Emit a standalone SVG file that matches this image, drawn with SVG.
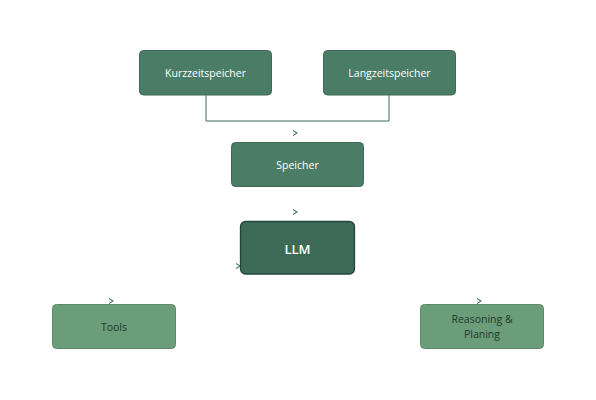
<svg xmlns="http://www.w3.org/2000/svg" width="596" height="400" viewBox="0 0 596 400">
<style>
.box{fill:#4b7c66;stroke:#3c6a56;stroke-width:1}
.llm{fill:#3d6a57;stroke:#25453a;stroke-width:1.3}
.low{fill:#6b9d7a;stroke:#5a8a69;stroke-width:1}
.t{font-family:"Open Sans","Noto Sans",sans-serif;font-size:10.5px;fill:#ffffff;text-anchor:middle}
.td{font-family:"Open Sans","Noto Sans",sans-serif;font-size:10.5px;fill:#1e3a2c;text-anchor:middle}
.tl{font-family:"Open Sans","Noto Sans",sans-serif;font-size:13px;font-weight:600;fill:#ffffff;text-anchor:middle}
.c{fill:none;stroke:#3c6a56;stroke-width:1}
.ch{fill:none;stroke:#4b7c66;stroke-width:1.1}
</style>
<rect width="596" height="400" fill="#ffffff"/>
<g id="connectors">
<polyline class="c" points="206,95.5 206,121 389,121 389,95.5"/>
<polyline class="ch" points="293,130.5 297,133 293,135.5"/>
<polyline class="ch" points="293,209.5 297,212 293,214.5"/>
<polyline class="ch" points="236,263.5 240,266 236,268.5"/>
<polyline class="ch" points="350,260.5 354,263 350,265.5" opacity="0.5"/>
<polyline class="ch" points="109,298.5 113,301 109,303.5"/>
<polyline class="ch" points="477,298.5 481,301 477,303.5"/>
</g>
<g id="kurzzeitspeicher">
<rect class="box" x="139.5" y="50.5" width="132" height="44.5" rx="4"/>
<text class="t" x="205.5" y="76.5">Kurzzeitspeicher</text>
</g>
<g id="langzeitspeicher">
<rect class="box" x="323.5" y="50.5" width="132" height="44.5" rx="4"/>
<text class="t" x="389.5" y="76.5">Langzeitspeicher</text>
</g>
<g id="speicher">
<rect class="box" x="231.5" y="142.5" width="132" height="44" rx="4"/>
<text class="t" x="297.5" y="168.5">Speicher</text>
</g>
<g id="llm">
<rect class="llm" x="240.5" y="221.5" width="114" height="52.5" rx="5"/>
<text class="tl" x="297.5" y="254">LLM</text>
</g>
<g id="tools">
<rect class="low" x="52.5" y="304.5" width="123" height="44" rx="4"/>
<text class="td" x="114" y="330.5">Tools</text>
</g>
<g id="reasoning">
<rect class="low" x="420.5" y="304.5" width="123" height="44" rx="4"/>
<text class="td" x="482" y="323">Reasoning &amp;</text>
<text class="td" x="482" y="338">Planing</text>
</g>
</svg>
